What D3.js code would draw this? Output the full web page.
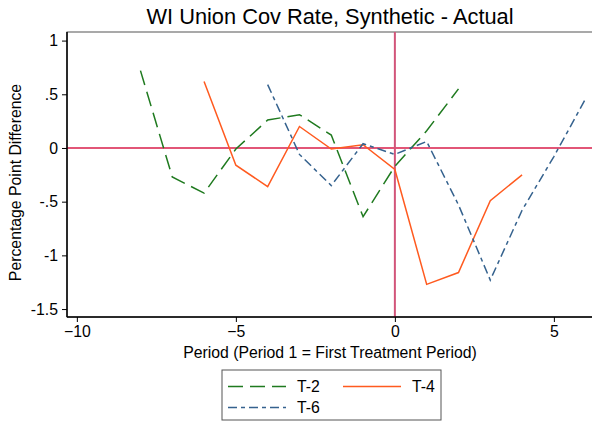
<!DOCTYPE html>
<html>
<head>
<meta charset="utf-8">
<script src="https://cdn.jsdelivr.net/npm/d3@7"></script>
<style>
  body { margin: 0; background: #fff; }
  text { font-family: "Liberation Sans", Arial, sans-serif; fill: #000; }
</style>
</head>
<body>
<div id="chart"></div>
<script>
    // periods relative to treatment, one array per series
    var periodsT2 = [-8, -7, -6, -5, -4, -3, -2, -1, 0, 1, 2];
    var valuesT2 = [0.72, -0.27, -0.42, -0.01, 0.26, 0.31, 0.12, -0.64, -0.17, 0.16, 0.55];

    var periodsT4 = [-6, -5, -4, -3, -2, -1, 0, 1, 2, 3, 4];
    var valuesT4 = [0.62, -0.16, -0.36, 0.20, -0.01, 0.03, -0.20, -1.27, -1.16, -0.49, -0.25];

    var periodsT6 = [-4, -3, -2, -1, 0, 1, 2, 3, 4, 5, 6];
    var valuesT6 = [0.59, -0.06, -0.35, 0.04, -0.06, 0.06, -0.53, -1.23, -0.58, -0.08, 0.46];

    var xTicks = [-10, -5, 0, 5];
    var yTicks = [1, 0.5, 0, -0.5, -1, -1.5];
    var yTickLabels = ['1', '.5', '0', '-.5', '-1', '-1.5'];

    var seriesNames = ['T-2', 'T-4', 'T-6'];

    var width = 592, height = 423;
    var margin = {top: 32, right: -1, bottom: 106, left: 67};
    var plotW = width - margin.left - margin.right;
    var plotH = height - margin.top - margin.bottom;
    var fontSize = '15.8px';

    var styles = {
        'T-2': {color: '#1f7a1f', dash: '15,7'},
        'T-4': {color: '#ff5a1f', dash: null},
        'T-6': {color: '#35628e', dash: '9,4,4,4'}
    };

    var svg = d3.select('#chart').append('svg')
        .attr('width', width)
        .attr('height', height);

    var x = d3.scaleLinear().domain([-10.31, 6.23]).range([0, plotW]);
    var y = d3.scaleLinear().domain([-1.574, 1.08]).range([plotH, 0]);

    svg.append('text')
        .attr('x', margin.left + plotW / 2)
        .attr('y', 24)
        .attr('text-anchor', 'middle')
        .style('font-size', '21.8px')
        .text('WI Union Cov Rate, Synthetic - Actual');

    var g = svg.append('g')
        .attr('transform', 'translate(' + margin.left + ',' + margin.top + ')');

    // plot region border
    g.append('rect')
        .attr('width', plotW)
        .attr('height', plotH)
        .attr('fill', 'none')
        .attr('stroke', '#555')
        .attr('stroke-width', 1);

    // reference lines
    g.append('line')
        .attr('x1', 0).attr('x2', plotW)
        .attr('y1', y(0)).attr('y2', y(0))
        .attr('stroke', '#d81e4a')
        .attr('stroke-width', 1.4);

    g.append('line')
        .attr('x1', x(0)).attr('x2', x(0))
        .attr('y1', 0).attr('y2', plotH)
        .attr('stroke', '#d2557a')
        .attr('stroke-width', 2);

    var line = d3.line()
        .x(function (d) { return x(d[0]); })
        .y(function (d) { return y(d[1]); });

    var allSeries = [
        {name: 'T-2', pts: d3.zip(periodsT2, valuesT2)},
        {name: 'T-4', pts: d3.zip(periodsT4, valuesT4)},
        {name: 'T-6', pts: d3.zip(periodsT6, valuesT6)}
    ];

    allSeries.forEach(function (s) {
        g.append('path')
            .datum(s.pts)
            .attr('d', line)
            .attr('fill', 'none')
            .attr('stroke', styles[s.name].color)
            .attr('stroke-width', 1.5)
            .attr('stroke-dasharray', styles[s.name].dash);
    });

    // axes
    var xAxis = g.append('g')
        .attr('transform', 'translate(0,' + plotH + ')')
        .call(d3.axisBottom(x).tickValues(xTicks).tickSize(5).tickPadding(4).tickFormat(d3.format('d')));

    var yAxis = g.append('g')
        .call(d3.axisLeft(y).tickValues(yTicks).tickSize(5).tickPadding(4)
            .tickFormat(function (d, i) { return yTickLabels[i]; }));

    [xAxis, yAxis].forEach(function (a) {
        a.select('.domain').attr('stroke', '#000').attr('stroke-width', 1.5);
        a.selectAll('.tick line').attr('stroke', '#000');
        a.selectAll('text').style('font-size', fontSize).attr('fill', '#000')
            .style('font-family', '"Liberation Sans", Arial, sans-serif');
    });
    xAxis.select('.domain').attr('d', 'M0,0H' + plotW);
    yAxis.select('.domain').attr('d', 'M0,0V' + plotH);

    svg.append('text')
        .attr('x', margin.left + plotW / 2)
        .attr('y', 358)
        .attr('text-anchor', 'middle')
        .style('font-size', fontSize)
        .text('Period (Period 1 = First Treatment Period)');

    svg.append('text')
        .attr('transform', 'translate(21,' + (margin.top + plotH / 2 + 8) + ') rotate(-90)')
        .attr('text-anchor', 'middle')
        .style('font-size', fontSize)
        .text('Percentage Point Difference');

    // legend
    var legend = svg.append('g').attr('transform', 'translate(222,370)');
    legend.append('rect')
        .attr('width', 219)
        .attr('height', 50)
        .attr('fill', '#fff')
        .attr('stroke', '#555')
        .attr('stroke-width', 1);

    var legendPos = [[6, 16.5], [121, 16.5], [6, 37.5]];
    seriesNames.forEach(function (name, i) {
        var p = legendPos[i];
        var item = legend.append('g').attr('transform', 'translate(' + p[0] + ',' + p[1] + ')');
        item.append('line')
            .attr('x1', 0).attr('x2', 58)
            .attr('stroke', styles[name].color)
            .attr('stroke-width', 1.5)
            .attr('stroke-dasharray', styles[name].dash);
        item.append('text')
            .attr('x', 69)
            .attr('dy', '0.36em')
            .style('font-size', fontSize)
            .text(name);
    });
</script>
</body>
</html>
